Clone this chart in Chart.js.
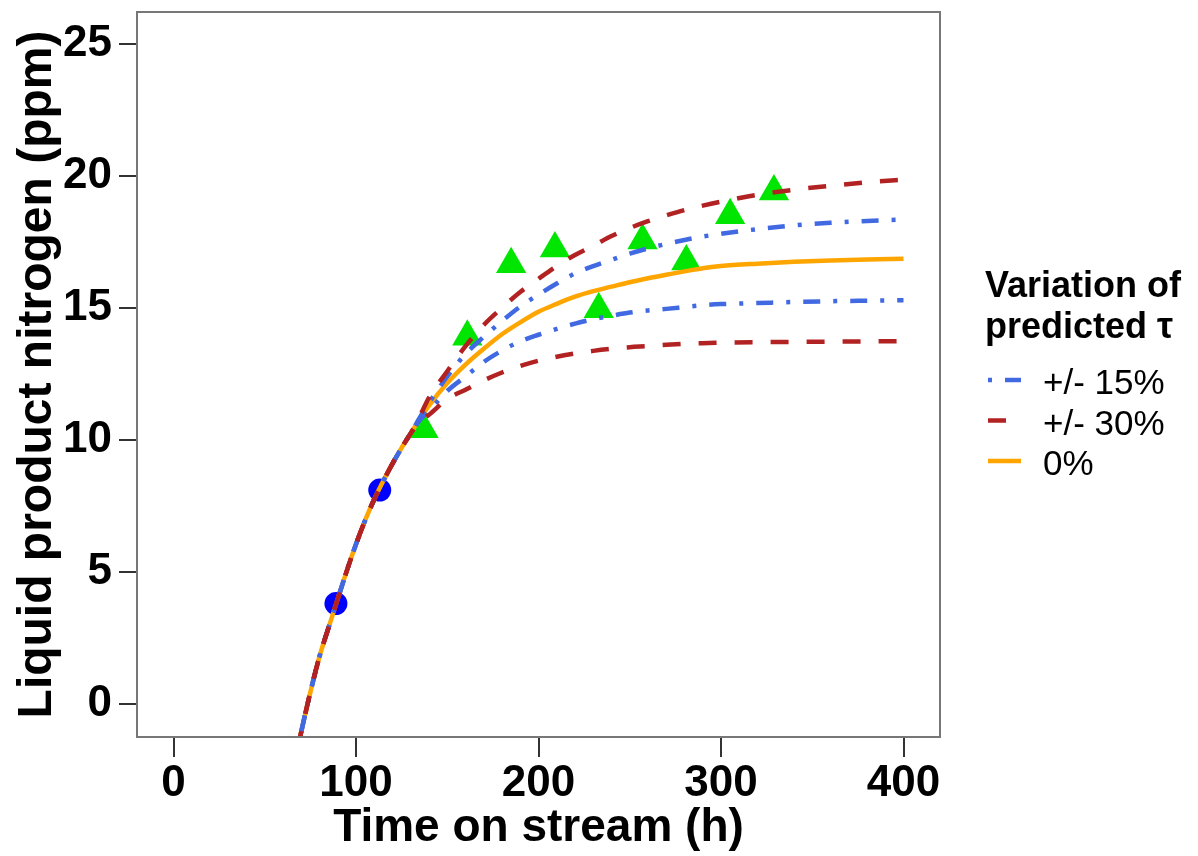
<!DOCTYPE html>
<html>
<head>
<meta charset="utf-8">
<title>Liquid product nitrogen</title>
<script src="https://cdn.jsdelivr.net/npm/chart.js@4.4.1/dist/chart.umd.min.js"></script>
<style>
  html, body { margin: 0; padding: 0; background: #fff; }
  #grafico { display: block; }
</style>
</head>
<body>
<canvas id="grafico" width="1198" height="856"></canvas>
<script>
// ---- dados ----
const circleTime = [89, 113];
const circleN = [3.8, 8.1];

const triangleTime = [137, 161, 185, 209, 233, 257, 281, 305, 329];
const triangleN = [10.4, 13.9, 16.65, 17.25, 14.95, 17.55, 16.75, 18.5, 19.4];

// trecho comum a todas as curvas
const earlyTime = [68, 70, 75, 80, 85, 90, 95, 100, 105, 110, 115, 120, 125, 130];
const earlyN = [-1.7, -1.05, 0.45, 1.8, 2.9, 3.98, 5.05, 6.05, 6.95, 7.75, 8.45, 9.1, 9.7, 10.25];

// trecho onde as curvas se separam
const lateTime = [135, 140, 150, 160, 170, 180, 190, 200, 210, 220, 230, 240, 250, 260, 270, 280, 290, 300, 320, 340, 360, 380, 400];
const fit0 = [10.8, 11.3, 12.15, 12.85, 13.45, 14.0, 14.45, 14.85, 15.15, 15.42, 15.63, 15.8, 15.97, 16.12, 16.25, 16.38, 16.5, 16.58, 16.67, 16.74, 16.79, 16.83, 16.86];
const fitHigh15 = [10.85, 11.4, 12.4, 13.25, 13.9, 14.5, 15.05, 15.5, 15.92, 16.3, 16.58, 16.82, 17.05, 17.25, 17.42, 17.57, 17.7, 17.8, 17.98, 18.12, 18.22, 18.29, 18.34];
const fitLow15 = [10.75, 11.1, 11.85, 12.4, 12.95, 13.38, 13.73, 13.98, 14.2, 14.4, 14.57, 14.7, 14.82, 14.9, 14.96, 15.03, 15.1, 15.14, 15.18, 15.22, 15.25, 15.27, 15.29];
const fitHigh30 = [10.9, 11.6, 12.6, 13.55, 14.35, 15.0, 15.6, 16.1, 16.58, 17.0, 17.35, 17.72, 18.02, 18.28, 18.5, 18.7, 18.87, 19.02, 19.28, 19.47, 19.62, 19.75, 19.85];
const fitLow30 = [10.7, 10.95, 11.55, 11.9, 12.25, 12.55, 12.8, 13.0, 13.15, 13.27, 13.37, 13.45, 13.51, 13.55, 13.6, 13.64, 13.66, 13.68, 13.7, 13.71, 13.72, 13.73, 13.74];

const xTicks = [0, 100, 200, 300, 400];
const yTicks = [0, 5, 10, 15, 20, 25];

const legendTitle = ['Variation of', 'predicted \u03c4'];
const legendLabels = ['+/- 15%', '+/- 30%', '0%'];

// ---- montagem ----
const FONT = '"Liberation Sans", Arial, sans-serif';
const BLUE = '#4169E1';
const RED = '#B22222';
const ORANGE = '#FFA500';
const DASH_15 = [4, 13, 17, 13];
const DASH_30 = [18, 18];

function toPoints(xs, ys) {
    return xs.map((x, i) => ({ x: x, y: ys[i] }));
}

function curve(late) {
    return toPoints(earlyTime, earlyN).concat(toPoints(lateTime, late));
}

function lineDataset(label, values, color, dash, order) {
    return {
        label: label,
        data: curve(values),
        showLine: true,
        borderColor: color,
        borderWidth: 4.5,
        borderDash: dash,
        borderCapStyle: 'butt',
        pointRadius: 0,
        cubicInterpolationMode: 'monotone',
        fill: false,
        order: order
    };
}

// moldura do gráfico + legenda desenhada no canvas
const molduraLegenda = {
    id: 'molduraLegenda',
    afterDraw(chart) {
        const ctx = chart.ctx;
        const a = chart.chartArea;
        ctx.save();
        ctx.strokeStyle = '#777';
        ctx.lineWidth = 2;
        ctx.strokeRect(a.left, a.top, a.right - a.left, a.bottom - a.top);

        const lx = a.right + 45;
        ctx.fillStyle = '#000';
        ctx.textBaseline = 'alphabetic';
        ctx.textAlign = 'left';
        ctx.font = 'bold 36px ' + FONT;
        ctx.fillText(legendTitle[0], lx, 297);
        ctx.fillText(legendTitle[1], lx, 338);

        const estilos = [
            { color: BLUE, dash: DASH_15 },
            { color: RED, dash: DASH_30 },
            { color: ORANGE, dash: [] }
        ];
        ctx.font = '35px ' + FONT;
        estilos.forEach((s, i) => {
            const y = 380 + i * 40.5;
            ctx.beginPath();
            ctx.setLineDash(s.dash);
            ctx.lineCap = 'butt';
            ctx.strokeStyle = s.color;
            ctx.lineWidth = 4.5;
            ctx.moveTo(lx + 3, y);
            ctx.lineTo(lx + 36, y);
            ctx.stroke();
            ctx.setLineDash([]);
            ctx.fillText(legendLabels[i], lx + 58, y + 14);
        });
        ctx.restore();
    }
};

new Chart(document.getElementById('grafico'), {
    type: 'scatter',
    data: {
        datasets: [
            lineDataset('+30%', fitHigh30, RED, DASH_30, 1),
            lineDataset('-30%', fitLow30, RED, DASH_30, 1),
            lineDataset('+15%', fitHigh15, BLUE, DASH_15, 2),
            lineDataset('-15%', fitLow15, BLUE, DASH_15, 2),
            lineDataset('0%', fit0, ORANGE, [], 3),
            {
                label: 'triangulos',
                data: toPoints(triangleTime, triangleN),
                pointStyle: 'triangle',
                pointRadius: 17.5,
                pointBackgroundColor: '#00E600',
                pointBorderWidth: 0,
                order: 10
            },
            {
                label: 'circulos',
                data: toPoints(circleTime, circleN),
                pointStyle: 'circle',
                pointRadius: 11.5,
                pointBackgroundColor: '#0000FF',
                pointBorderWidth: 0,
                order: 10
            }
        ]
    },
    options: {
        responsive: false,
        animation: false,
        events: [],
        layout: { autoPadding: false, padding: { top: 12, right: 258, left: 0, bottom: 0 } },
        plugins: {
            legend: { display: false },
            tooltip: { enabled: false }
        },
        scales: {
            x: {
                type: 'linear',
                min: -20,
                max: 420,
                afterBuildTicks: axis => { axis.ticks = xTicks.map(v => ({ value: v })); },
                afterFit: axis => {
                    axis.height = 119;
                    axis.paddingLeft = 0;
                    axis.paddingRight = 0;
                },
                border: { display: false },
                grid: { drawOnChartArea: false, drawTicks: true, tickLength: 20, color: '#333', lineWidth: 2 },
                ticks: {
                    color: '#000',
                    padding: 0,
                    autoSkip: false,
                    maxRotation: 0,
                    font: { family: FONT, size: 44, weight: 'bold' }
                },
                title: {
                    display: true,
                    text: 'Time on stream (h)',
                    color: '#000',
                    padding: 0,
                    font: { family: FONT, size: 46, weight: 'bold' }
                }
            },
            y: {
                type: 'linear',
                min: -1.25,
                max: 26.2,
                afterBuildTicks: axis => { axis.ticks = yTicks.map(v => ({ value: v })); },
                afterFit: axis => {
                    axis.width = 137;
                    axis.paddingTop = 0;
                    axis.paddingBottom = 0;
                },
                border: { display: false },
                grid: { drawOnChartArea: false, drawTicks: true, tickLength: 18, color: '#333', lineWidth: 2 },
                ticks: {
                    color: '#000',
                    padding: 7,
                    autoSkip: false,
                    font: { family: FONT, size: 44, weight: 'bold' }
                },
                title: {
                    display: true,
                    text: 'Liquid product nitrogen (ppm)',
                    color: '#000',
                    padding: { top: 9, bottom: 0 },
                    font: { family: FONT, size: 48, weight: 'bold' }
                }
            }
        }
    },
    plugins: [molduraLegenda]
});
</script>
</body>
</html>
